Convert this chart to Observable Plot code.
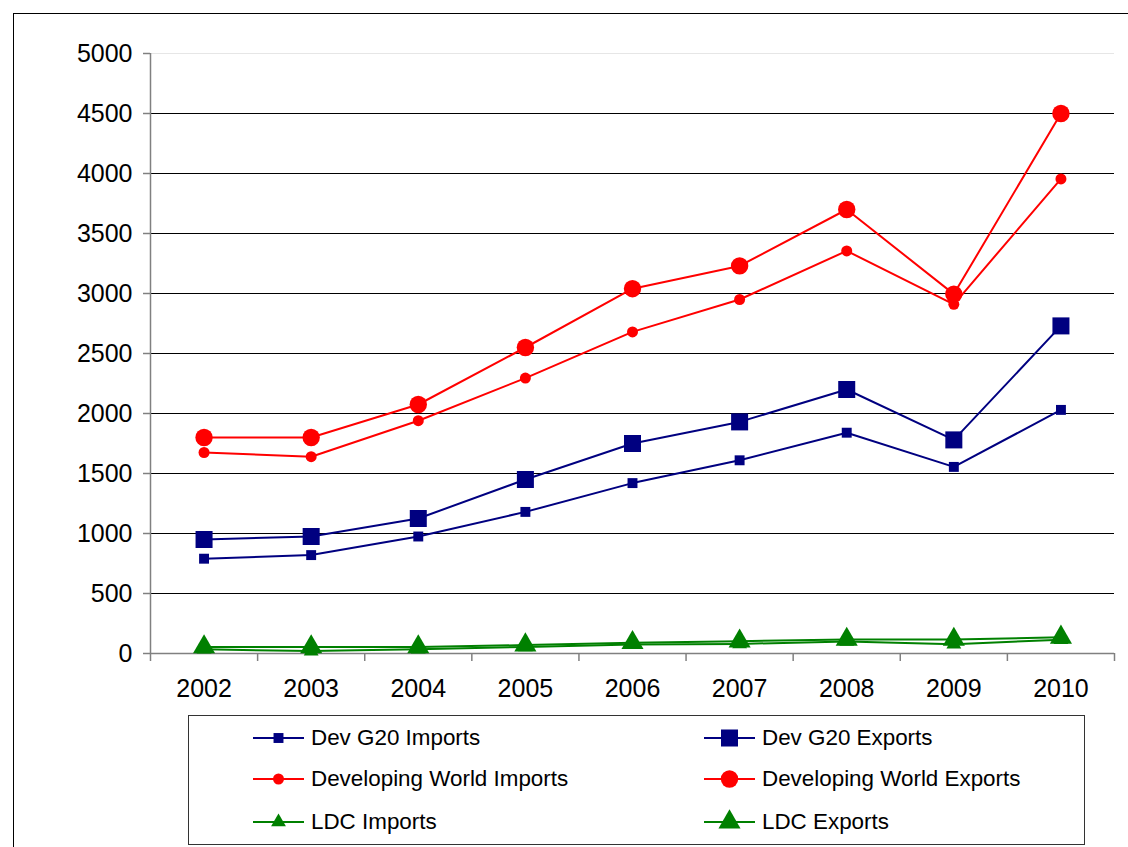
<!DOCTYPE html>
<html>
<head>
<meta charset="utf-8">
<script src="https://cdn.jsdelivr.net/npm/d3@7"></script>
<script src="https://cdn.jsdelivr.net/npm/@observablehq/plot@0.6"></script>
<style>
  html, body { margin: 0; padding: 0; background: #fff; width: 1128px; height: 847px; overflow: hidden; }
  body { position: relative; font-family: "Liberation Sans", Arial, sans-serif; }
  #frame { position: absolute; left: 13px; top: 13px; width: 1300px; height: 1000px; border: 1.5px solid #000; box-sizing: border-box; }
  #chart { position: absolute; left: 0; top: 0; }
  #legend { position: absolute; left: 188px; top: 715px; width: 897px; height: 130px; border: 1px solid #333; box-sizing: border-box; background: #fff; }
  .item { position: absolute; display: flex; align-items: center; font-size: 22.4px; color: #000; height: 30px; white-space: nowrap; }
  .item svg { margin-right: 6px; }
</style>
</head>
<body>
<div id="frame"></div>
<div id="chart"></div>
<div id="legend"></div>
<script>
const years = [2002, 2003, 2004, 2005, 2006, 2007, 2008, 2009, 2010];
const devG20Imports   = [790, 820, 975, 1180, 1420, 1610, 1840, 1555, 2030];
const devG20Exports   = [950, 975, 1125, 1450, 1750, 1930, 2200, 1780, 2730];
const devWorldImports = [1675, 1640, 1940, 2295, 2680, 2950, 3355, 2910, 3955];
const devWorldExports = [1800, 1800, 2075, 2550, 3040, 3230, 3700, 2995, 4500];
const ldcImports      = [35, 20, 35, 55, 75, 80, 100, 78, 115];
const ldcExports      = [55, 55, 55, 70, 90, 103, 117, 117, 135];
const yTicks = [0, 500, 1000, 1500, 2000, 2500, 3000, 3500, 4000, 4500, 5000];
const categoryBounds = [2001.5, 2002.5, 2003.5, 2004.5, 2005.5, 2006.5, 2007.5, 2008.5, 2009.5, 2010.5];

const series = [
  {name: "Dev G20 Imports", values: devG20Imports, color: "#000080", symbol: "square", r: 5.6},
  {name: "Dev G20 Exports", values: devG20Exports, color: "#000080", symbol: "square", r: 9.6},
  {name: "Developing World Imports", values: devWorldImports, color: "#FF0000", symbol: "circle", r: 5.5},
  {name: "Developing World Exports", values: devWorldExports, color: "#FF0000", symbol: "circle", r: 8.7},
  {name: "LDC Imports", values: ldcImports, color: "#008000", symbol: "triangle", r: 5.5},
  {name: "LDC Exports", values: ldcExports, color: "#008000", symbol: "triangle", r: 8.2}
];

const marks = [];
marks.push(Plot.ruleY(yTicks.filter(d => d > 0 && d < 5000), {stroke: "#000", strokeWidth: 1}));
marks.push(Plot.ruleY([5000], {stroke: "#e6e6e6", strokeWidth: 1}));
marks.push(Plot.ruleX([2001.5], {stroke: "#808080", strokeWidth: 1.5}));
marks.push(Plot.ruleY([0], {stroke: "#808080", strokeWidth: 1.5}));
marks.push(Plot.axisX(categoryBounds, {tickSize: 8, tickFormat: () => "", stroke: "#808080", strokeWidth: 1.5}));

for (const s of series) {
  const data = years.map((y, i) => ({year: y, value: s.values[i]}));
  marks.push(Plot.line(data, {x: "year", y: "value", stroke: s.color, strokeWidth: 2}));
}
for (const s of series) {
  const data = years.map((y, i) => ({year: y, value: s.values[i]}));
  marks.push(Plot.dot(data, {x: "year", y: "value", fill: s.color, stroke: "none", symbol: s.symbol, r: s.r}));
}

marks.push(Plot.axisY(yTicks, {tickSize: 7, tickPadding: 11, tickFormat: d => String(d), fontSize: 25, stroke: "#808080", fill: "#000", strokeWidth: 1.5}));
marks.push(Plot.axisX(years, {tickSize: 0, tickPadding: 26, tickFormat: d => String(d), fontSize: 25, fill: "#000"}));

const chart = Plot.plot({
  width: 1128,
  height: 700,
  marginLeft: 150,
  marginRight: 14,
  marginTop: 53,
  marginBottom: 47,
  style: {fontFamily: "'Liberation Sans', Arial, sans-serif", color: "#000", background: "transparent", overflow: "visible"},
  x: {type: "linear", domain: [2001.5, 2010.5], label: null},
  y: {type: "linear", domain: [0, 5000], label: null},
  marks
});
document.getElementById("chart").appendChild(chart);

// Legend (HTML)
const legend = document.getElementById("legend");
const pos = [
  {left: 64, top: 7}, {left: 515, top: 7},
  {left: 64, top: 48}, {left: 515, top: 48},
  {left: 64, top: 91}, {left: 515, top: 91}
];
const ns = "http://www.w3.org/2000/svg";
series.forEach((s, i) => {
  const item = document.createElement("div");
  item.className = "item";
  item.style.left = pos[i].left + "px";
  item.style.top = pos[i].top + "px";
  const svg = document.createElementNS(ns, "svg");
  svg.setAttribute("width", 52); svg.setAttribute("height", 30);
  const line = document.createElementNS(ns, "line");
  line.setAttribute("x1", 0); line.setAttribute("x2", 51); line.setAttribute("y1", 15); line.setAttribute("y2", 15);
  line.setAttribute("stroke", s.color); line.setAttribute("stroke-width", 2);
  svg.appendChild(line);
  const sym = s.symbol === "square" ? d3.symbolSquare : s.symbol === "circle" ? d3.symbolCircle : d3.symbolTriangle;
  const path = document.createElementNS(ns, "path");
  path.setAttribute("d", d3.symbol(sym, Math.PI * s.r * s.r)());
  path.setAttribute("transform", "translate(25.5,15)");
  path.setAttribute("fill", s.color);
  svg.appendChild(path);
  item.appendChild(svg);
  const t = document.createElement("span");
  t.textContent = s.name;
  item.appendChild(t);
  legend.appendChild(item);
});
</script>
</body>
</html>
